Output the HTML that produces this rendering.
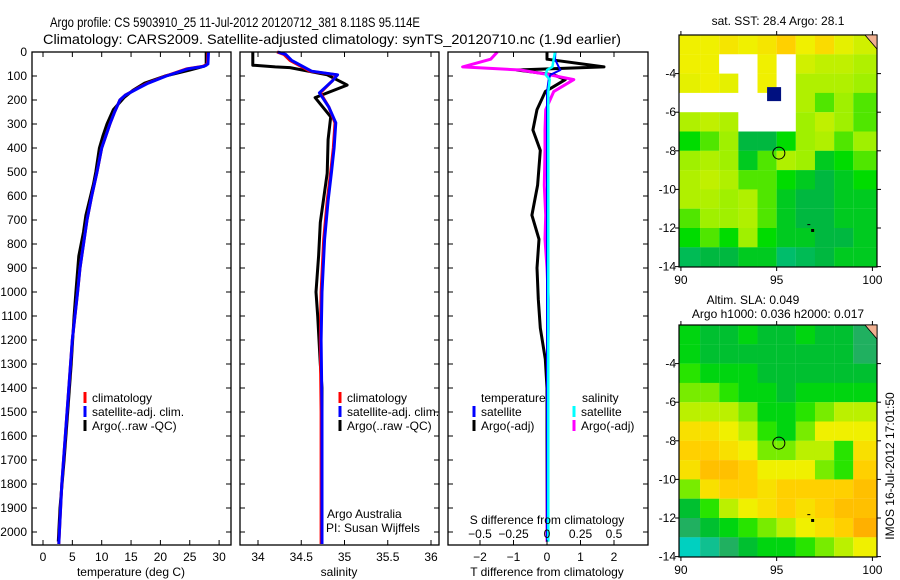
<!DOCTYPE html>
<html><head><meta charset="utf-8"><style>
body{margin:0;background:#fff}
svg{display:block;font-family:"Liberation Sans",sans-serif}
</style></head><body>
<svg id="c" width="900" height="580" viewBox="0 0 900 580">
<text x="50" y="27" font-size="14" textLength="370" lengthAdjust="spacingAndGlyphs">Argo profile: CS 5903910_25 11-Jul-2012 20120712_381 8.118S 95.114E</text>
<text x="43" y="44" font-size="14" textLength="578" lengthAdjust="spacingAndGlyphs">Climatology: CARS2009. Satellite-adjusted climatology: synTS_20120710.nc (1.9d earlier)</text>
<g id="plots"></g>
</svg>
<script>
// ---- data ----
const tDepth   = [0,50,60,70,100,130,150,180,200,250,300,400,500,600,700,800,900,1000,1200,1400,1600,1800,2000,2050];
const tClim    = [28.1,28.0,27.2,24.5,20.9,17.8,16.2,14.0,13.1,12.2,11.4,10.0,9.2,8.3,7.5,6.9,6.3,5.9,5.0,4.4,3.8,3.2,2.8,2.7];
const tSat     = [28.2,28.1,27.4,24.7,21.0,17.9,16.3,14.0,13.1,12.2,11.4,10.0,9.2,8.3,7.5,6.9,6.3,5.9,5.0,4.4,3.8,3.2,2.8,2.7];
const aDepth   = [0,55,62,75,100,130,160,190,240,300,350,400,500,550,620,680,750,850,1000,1100,1300,1500,1700,1900,2040];
const tArgo    = [27.8,27.8,27.0,25.0,20.8,17.3,15.3,13.8,12.0,10.9,10.2,9.6,9.0,8.6,7.9,7.3,6.9,6.1,5.6,5.3,4.8,4.2,3.6,2.9,2.6];
const sDepth   = [0,10,35,80,95,120,170,230,295,400,500,620,780,1000,1200,1500,2000,2050];
const sClim    = [34.22,34.3,34.37,34.6,34.91,34.86,34.72,34.82,34.89,34.87,34.84,34.8,34.76,34.73,34.72,34.73,34.73,34.73];
const sSat     = [34.23,34.32,34.39,34.62,34.92,34.86,34.71,34.82,34.9,34.88,34.85,34.81,34.77,34.74,34.73,34.74,34.74,34.74];
const saDepth  = [0,55,62,65,95,130,138,190,270,365,505,710,850,1000,1100,1300,1400,2000,2040];
const sArgo    = [33.94,33.94,34.2,34.37,34.8,34.99,35.03,34.66,34.84,34.81,34.8,34.72,34.7,34.67,34.69,34.72,34.74,34.74,34.74];
const dDepth   = [0,30,62,75,95,115,165,240,325,410,555,680,780,900,1030,1150,1280,1400,2040];
const dTArgo   = [0,0,1.7,-0.9,0.2,0.55,-0.05,-0.3,-0.42,-0.2,-0.28,-0.45,-0.24,-0.3,-0.26,-0.2,-0.05,0,0];
const dTSat    = [0.25,0.24,0.35,0.4,0.1,0.05,0,0,0,0,0,0,0,0,0,0,0,0,0];
const dSArgo   = [-0.37,-0.42,-0.63,-0.2,0.02,0.2,0.05,-0.01,-0.015,-0.015,-0.02,-0.01,-0.015,0,0.01,0.01,0.005,0.005,0];
const dSSat    = [0.06,0.05,0.04,0.0,-0.01,0.02,0.01,0.01,0.01,0.01,0.01,0.01,0.01,0.01,0.01,0.01,0.01,0.01,0.01];
const depthTicks = [0,100,200,300,400,500,600,700,800,900,1000,1100,1200,1300,1400,1500,1600,1700,1800,1900,2000];
const tTicks = [0,5,10,15,20,25,30];
const sTicks = [34,34.5,35,35.5,36];
const sTickLabels = ["34","34.5","35","35.5","36"];
const dTTicks = [-2,-1,0,1,2];
const dSTicks = [-0.5,-0.25,0,0.25,0.5];
const dSTickLabels = ["\u22120.5","\u22120.25","0","0.25","0.5"];
const mapLatTicks = [-4,-6,-8,-10,-12,-14];
const mapLonTicks = [90,95,100];
const sstGrid = [
 [28.9,28.9,29.0,28.9,29.0,29.2,28.9,29.1,28.8,28.6],
 [28.9,28.9,NaN,NaN,28.9,NaN,28.6,28.5,28.5,28.4],
 [28.8,28.9,28.8,NaN,28.9,NaN,28.4,28.4,28.4,28.3],
 [NaN,NaN,NaN,NaN,NaN,NaN,28.4,28.2,28.3,28.2],
 [28.4,28.5,28.4,NaN,NaN,NaN,28.3,28.5,28.3,28.2],
 [28.1,28.2,28.3,27.9,27.9,28.1,28.3,28.4,28.2,28.3],
 [28.3,28.4,28.3,28.0,28.2,28.4,28.3,28.0,28.1,28.2],
 [28.4,28.5,28.4,28.2,28.2,28.1,28.0,27.9,28.0,28.1],
 [28.4,28.4,28.3,28.4,28.2,28.0,27.9,27.9,28.0,28.0],
 [28.2,28.3,28.3,28.4,28.2,28.0,27.9,27.9,28.0,28.0],
 [28.1,28.2,28.1,28.3,28.1,28.0,28.0,27.9,27.9,28.0],
 [27.8,27.9,27.9,28.0,28.0,27.7,27.8,27.9,28.0,28.0]];
const slaGrid = [
 [0.04,0.03,0.03,0.04,0.03,0.03,0.04,0.03,0.03,0.02],
 [0.04,0.03,0.03,0.03,0.03,0.03,0.03,0.03,0.03,0.02],
 [0.05,0.04,0.04,0.04,0.03,0.03,0.03,0.03,0.03,0.03],
 [0.06,0.06,0.05,0.04,0.04,0.03,0.04,0.04,0.04,0.04],
 [0.07,0.07,0.07,0.06,0.04,0.04,0.05,0.06,0.07,0.07],
 [0.09,0.09,0.08,0.07,0.05,0.04,0.06,0.08,0.08,0.08],
 [0.10,0.10,0.09,0.08,0.06,0.06,0.07,0.07,0.05,0.09],
 [0.09,0.11,0.11,0.10,0.08,0.08,0.08,0.06,0.05,0.10],
 [0.06,0.09,0.10,0.10,0.09,0.10,0.10,0.10,0.10,0.11],
 [0.03,0.05,0.07,0.08,0.09,0.10,0.09,0.10,0.11,0.11],
 [0.02,0.03,0.04,0.05,0.06,0.07,0.08,0.09,0.10,0.12],
 [0.00,0.01,0.02,0.03,0.04,0.04,0.05,0.06,0.07,0.08]];
const argoLon = 95.114, argoLat = -8.118;

// ---- drawing ----
const NS="http://www.w3.org/2000/svg";
const root=document.getElementById('plots');
function el(tag,attrs,parent,txt){const e=document.createElementNS(NS,tag);for(const k in attrs)e.setAttribute(k,attrs[k]);if(txt!==undefined)e.textContent=txt;(parent||root).appendChild(e);return e;}
const yD=d=>52+d*0.24;
const P1={x0:32,x1:231},P2={x0:240,x1:439},P3={x0:448,x1:648};
const xT=v=>43+v*5.87, xS=v=>258+(v-34)*86.5, xDT=v=>547+v*33.5, xDS=v=>547+v*134;
const TOP=52,BOT=545;

function frame(P,name){const r=el('rect',{x:P.x0,y:TOP,width:P.x1-P.x0,height:BOT-TOP,fill:'none',stroke:'#000','stroke-width':1.3});

}
function line(xs,ds,sx,color,name,w){const pts=xs.map((v,i)=>sx(v).toFixed(1)+','+yD(ds[i]).toFixed(1)).join(' ');
const p=el('polyline',{points:pts,fill:'none',stroke:color,'stroke-width':w||3,'stroke-linejoin':'round'});

}
function txt(x,y,s,size,anchor,name){const t=el('text',{x:x,y:y,'font-size':size||12,'text-anchor':anchor||'start'},root,s);

return t;}

// series
line(tArgo,aDepth,xT,'#000','temp-argo-line');
line(tClim,tDepth,xT,'#f00','temp-clim-line');
line(tSat,tDepth,xT,'#00f','temp-sat-line');
line(sArgo,saDepth,xS,'#000','sal-argo-line');
line(sClim,sDepth,xS,'#f00','sal-clim-line');
line(sSat,sDepth,xS,'#00f','sal-sat-line');
line(dTArgo,dDepth,xDT,'#000','tdiff-argo-line');
line(dSArgo,dDepth,xDS,'#f0f','sdiff-argo-line');
line(dTSat,dDepth,xDT,'#00f','tdiff-sat-line',2);
line(dSSat,dDepth,xDS,'#0ff','sdiff-sat-line',2.5);

// frames & ticks
[[P1,'temperature-panel'],[P2,'salinity-panel'],[P3,'difference-panel']].forEach(([P,n])=>{
 frame(P,n);
 depthTicks.forEach(d=>{el('line',{x1:P.x0,x2:P.x0+5,y1:yD(d),y2:yD(d),stroke:'#000'});el('line',{x1:P.x1,x2:P.x1-5,y1:yD(d),y2:yD(d),stroke:'#000'});});
});
depthTicks.forEach(d=>txt(27,yD(d)+4,String(d),12,'end','depth-tick-label'));
tTicks.forEach(v=>{el('line',{x1:xT(v),x2:xT(v),y1:TOP,y2:TOP+5,stroke:'#000'});el('line',{x1:xT(v),x2:xT(v),y1:BOT,y2:BOT-5,stroke:'#000'});txt(xT(v),561,String(v),12,'middle','temp-tick-label');});
sTicks.forEach((v,i)=>{el('line',{x1:xS(v),x2:xS(v),y1:TOP,y2:TOP+5,stroke:'#000'});el('line',{x1:xS(v),x2:xS(v),y1:BOT,y2:BOT-5,stroke:'#000'});txt(xS(v),561,sTickLabels[i],12,'middle','sal-tick-label');});
dTTicks.forEach(v=>{el('line',{x1:xDT(v),x2:xDT(v),y1:TOP,y2:TOP+5,stroke:'#000'});el('line',{x1:xDT(v),x2:xDT(v),y1:BOT,y2:BOT-5,stroke:'#000'});txt(xDT(v),561,v<0?'\u2212'+(-v):String(v),12,'middle','tdiff-tick-label');});
dSTicks.forEach((v,i)=>txt(xDS(v),538,dSTickLabels[i],12,'middle','sdiff-tick-label'));
txt(131,576,'temperature (deg C)',12,'middle','x-axis-title-temperature');
txt(339,576,'salinity',12,'middle','x-axis-title-salinity');
txt(547,576,'T difference from climatology',12,'middle','x-axis-title-tdiff');
txt(547,524,'S difference from climatology',12,'middle','x-axis-title-sdiff');
txt(327,518,'Argo Australia',12,'start','credit-argo');
txt(326,532,'PI: Susan Wijffels',12,'start','credit-pi');

// legends
function leg(x,y,color,label,name){el('line',{x1:x,x2:x,y1:y-10,y2:y+1,stroke:color,'stroke-width':3});txt(x+7,y,label,12,'start',name);}
[[85,'temperature'],[340,'salinity']].forEach(([x,n])=>{
 leg(x,402,'#f00','climatology',n+'-legend-climatology');
 leg(x,416,'#00f','satellite-adj. clim.',n+'-legend-satellite');
 leg(x,430,'#000','Argo(..raw -QC)',n+'-legend-argo');
});
txt(481,402,'temperature',12,'start','legend-temperature-heading');
leg(474,416,'#00f','satellite','legend-tdiff-satellite');
leg(474,430,'#000','Argo(-adj)','legend-tdiff-argo');
txt(582,402,'salinity',12,'start','legend-salinity-heading');
leg(574,416,'#0ff','satellite','legend-sdiff-satellite');
leg(574,430,'#f0f','Argo(-adj)','legend-sdiff-argo');

// maps
function cmap(stops,v){if(v<=stops[0][0])return stops[0][1];for(let i=1;i<stops.length;i++){if(v<=stops[i][0]){const a=stops[i-1],b=stops[i],t=(v-a[0])/(b[0]-a[0]);const c=a[1].map((q,k)=>Math.round(q+(b[1][k]-q)*t));return c;}}return stops[stops.length-1][1];}
const sstStops=[[27.6,[0,192,128]],[27.9,[0,184,64]],[28.1,[0,220,0]],[28.3,[160,240,0]],[28.6,[208,240,0]],[28.9,[240,240,0]],[29.2,[255,208,0]]];
const slaStops=[[0,[0,208,192]],[0.02,[32,176,96]],[0.03,[0,192,48]],[0.045,[0,224,0]],[0.065,[160,240,0]],[0.08,[240,240,0]],[0.10,[255,208,0]],[0.12,[255,176,0]]];
function drawMap(top,grid,stops,name,title){
 const L=679,R=877,H=232;const xL=lon=>L+(lon-89.9)*19.15, yL=lat=>top+(-2-lat)*19.3;
 const g=el('g',{});
 grid.forEach((row,r)=>row.forEach((v,c)=>{
  const x=xL(90+c),y=yL(-2-r);const w=(c===9?R-x:19.2),h=(r===11?top+H-y:19.4);
  const x0=c===0?L:x;const ww=c===0?w+(x-L):w;
  const col=isNaN(v)?[255,255,255]:cmap(stops,v);
  const cell=el('rect',{x:x0,y:y,width:ww,height:h,fill:'rgb('+col.join(',')+')'},g);
  
  
 }));
 const fr=el('rect',{x:L,y:top,width:R-L,height:H,fill:'none',stroke:'#000','stroke-width':1.2});
 
 
 mapLatTicks.forEach(v=>{el('line',{x1:L-4,x2:L,y1:yL(v),y2:yL(v),stroke:'#000'});el('line',{x1:R,x2:R+4,y1:yL(v),y2:yL(v),stroke:'#000'});txt(L-3,yL(v)+4,String(v),12,'end','map-lat-label');});
 mapLonTicks.forEach(v=>{el('line',{x1:xL(v),x2:xL(v),y1:top-4,y2:top,stroke:'#000'});el('line',{x1:xL(v),x2:xL(v),y1:top+H,y2:top+H+4,stroke:'#000'});txt(xL(v),top+H+17,String(v),12,'middle','map-lon-label');});
 const c=el('circle',{cx:xL(argoLon),cy:yL(argoLat),r:6,fill:'none',stroke:'#000','stroke-width':1});
 
 
 el('rect',{x:xL(96.8),y:yL(-12.05),width:3,height:3,fill:'#000'});
 el('rect',{x:xL(96.6),y:yL(-11.8),width:3,height:1,fill:'#000'});
 el('polygon',{points:(R-12)+','+top+' '+R+','+top+' '+R+','+(top+14),fill:'#f0b090',stroke:'#000','stroke-width':0.8});
 return {xL,yL};
}
const m1=drawMap(35,sstGrid,sstStops,'sst-map');
const blk=el('rect',{x:m1.xL(94.5),y:m1.yL(-4.7),width:14,height:14,fill:'#001080'});


drawMap(325,slaGrid,slaStops,'sla-map');
txt(778,25,'sat. SST: 28.4  Argo: 28.1',12,'middle','sst-map-title');
txt(753,304,'Altim. SLA: 0.049',12,'middle','sla-map-title');
txt(778,318,'Argo h1000: 0.036 h2000: 0.017',12,'middle','sla-map-subtitle');
const v=txt(0,0,'IMOS 16-Jul-2012 17:01:50',12,'middle','timestamp-label');
v.setAttribute('transform','translate(894,466) rotate(-90)');
</script>
</body></html>
